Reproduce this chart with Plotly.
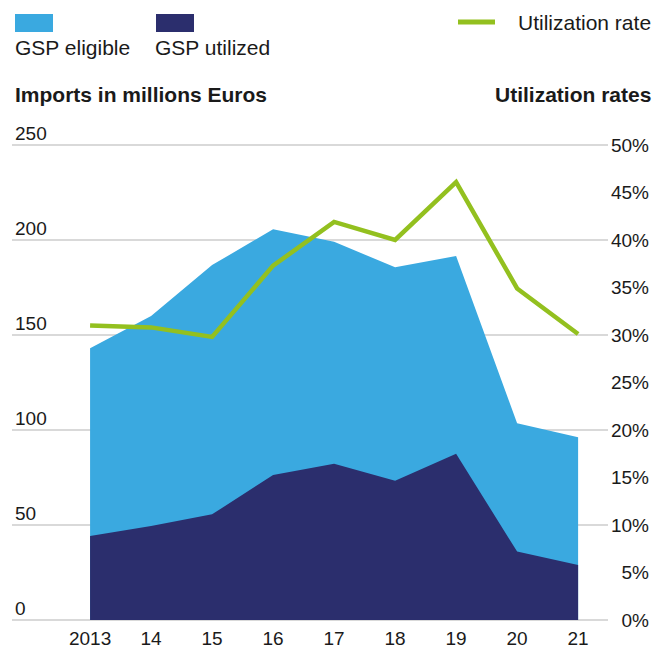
import plotly.graph_objects as go

# Data
years = ["2013", "14", "15", "16", "17", "18", "19", "20", "21"]
gsp_eligible = [143.0, 160.0, 186.8, 205.6, 199.1, 185.6, 191.6, 103.5, 96.2]
gsp_utilized = [44.2, 49.5, 55.6, 76.3, 82.3, 73.3, 87.5, 36.0, 28.9]
utilization_rate = [0.310, 0.308, 0.298, 0.373, 0.419, 0.400, 0.461, 0.349, 0.301]

left_ticks = [0, 50, 100, 150, 200, 250]
right_ticks = [0, 0.05, 0.10, 0.15, 0.20, 0.25, 0.30, 0.35, 0.40, 0.45, 0.50]

C_ELIG = "#3aa9e0"
C_UTIL = "#2b2e6d"
C_RATE = "#93c01f"
C_GRID = "#d9d9d9"
C_TEXT = "#1a1a1a"
FONT = "Liberation Sans"

W, H = 663, 653
M_L, M_R, M_T, M_B = 12, 11, 120, 21
PW, PH = W - M_L - M_R, H - M_T - M_B
X_DOMAIN_END = (608 - M_L) / PW

# pixel rows of the 0 and 250 gridlines; the axis range is padded so that
# the inside tick labels near the ends stay within the plotting box
Y0_PX, YTOP_PX = 620, 145
PX_PER_UNIT = (Y0_PX - YTOP_PX) / 250.0
Y_LO = -(H - M_B - Y0_PX) / PX_PER_UNIT
Y_HI = 250 + (YTOP_PX - M_T) / PX_PER_UNIT

xs = list(range(len(years)))

fig = go.Figure()
fig.add_trace(go.Scatter(
    x=xs, y=gsp_eligible, name="GSP eligible", mode="lines",
    line=dict(width=0, color=C_ELIG), fill="tozeroy", fillcolor=C_ELIG,
    hoverinfo="skip", showlegend=False))
fig.add_trace(go.Scatter(
    x=xs, y=gsp_utilized, name="GSP utilized", mode="lines",
    line=dict(width=0, color=C_UTIL), fill="tozeroy", fillcolor=C_UTIL,
    hoverinfo="skip", showlegend=False))
fig.add_trace(go.Scatter(
    x=xs, y=utilization_rate, name="Utilization rate", mode="lines",
    line=dict(width=4.5, color=C_RATE), yaxis="y2",
    hoverinfo="skip", showlegend=False))


def px(x):
    return (x - M_L) / PW


def py(y):
    return (H - M_B - y) / PH


shapes = [
    dict(type="rect", xref="paper", yref="paper", x0=px(15), x1=px(53),
         y0=py(32), y1=py(14), fillcolor=C_ELIG, line=dict(width=0)),
    dict(type="rect", xref="paper", yref="paper", x0=px(156), x1=px(194),
         y0=py(32), y1=py(14), fillcolor=C_UTIL, line=dict(width=0)),
    dict(type="line", xref="paper", yref="paper", x0=px(458), x1=px(495),
         y0=py(22), y1=py(22), line=dict(width=5, color=C_RATE)),
]

txt = dict(color=C_TEXT, family=FONT, size=21)
bold = dict(color=C_TEXT, family=FONT, size=21, weight="bold")
annotations = [
    dict(text="GSP eligible", x=px(13), y=py(47), xanchor="left", yanchor="middle",
         xref="paper", yref="paper", showarrow=False, font=txt),
    dict(text="GSP utilized", x=px(153), y=py(47), xanchor="left", yanchor="middle",
         xref="paper", yref="paper", showarrow=False, font=txt),
    dict(text="Utilization rate", x=px(653), y=py(22), xanchor="right", yanchor="middle",
         xref="paper", yref="paper", showarrow=False, font=txt),
    dict(text="Imports in millions Euros", x=px(13), y=py(94), xanchor="left",
         yanchor="middle", xref="paper", yref="paper", showarrow=False, font=bold),
    dict(text="Utilization rates", x=px(653), y=py(94), xanchor="right",
         yanchor="middle", xref="paper", yref="paper", showarrow=False, font=bold),
]

fig.update_layout(
    width=W, height=H,
    margin=dict(l=M_L, r=M_R, t=M_T, b=M_B, pad=0),
    paper_bgcolor="white", plot_bgcolor="white",
    font=dict(family=FONT, size=19, color=C_TEXT),
    xaxis=dict(
        domain=[0, X_DOMAIN_END], range=[-1.28, 8.49],
        anchor="free", position=(H - M_B - Y0_PX) / PH, automargin=False,
        tickmode="array", tickvals=xs, ticktext=years,
        showgrid=False, zeroline=False, showline=False, ticks="",
        tickfont=dict(size=19, color=C_TEXT), ticklabelstandoff=5,
    ),
    yaxis=dict(
        range=[Y_LO, Y_HI], tickmode="array", tickvals=left_ticks,
        showgrid=True, gridcolor=C_GRID, gridwidth=1.5,
        zeroline=False, showline=False, ticks="", automargin=False,
        ticklabelposition="inside", ticklabelshift=-12,
        tickfont=dict(size=19, color=C_TEXT),
    ),
    yaxis2=dict(
        range=[Y_LO / 500.0, Y_HI / 500.0], tickmode="array", tickvals=right_ticks,
        tickformat=".0%", overlaying="y", anchor="free", position=1.0,
        side="right", ticklabelposition="inside", automargin=False,
        showgrid=False, zeroline=False, showline=False, ticks="",
        tickfont=dict(size=19, color=C_TEXT),
    ),
    shapes=shapes,
    annotations=annotations,
)

fig.write_html("out.html")
